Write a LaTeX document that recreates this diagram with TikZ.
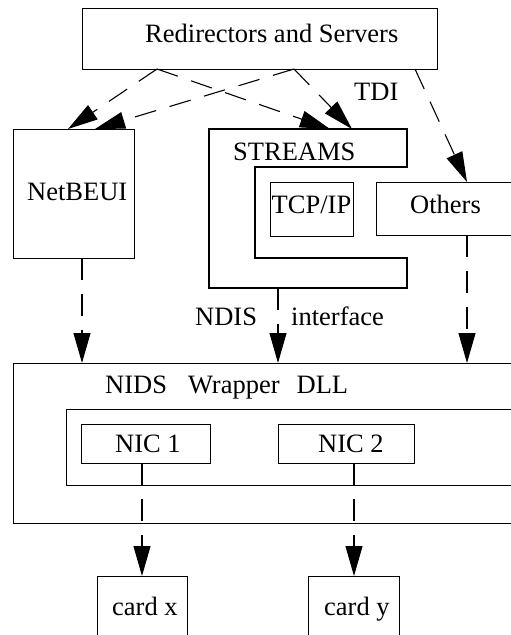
\documentclass[tikz,border=0pt]{standalone}
\usepackage{fontspec}
\setmainfont{Liberation Serif}
\usetikzlibrary{arrows.meta}

\tikzset{
  box/.style={draw, line width=1.1pt, inner sep=0pt, anchor=north west},
  lbl/.style={inner sep=0pt, anchor=base west, font=\fontsize{26.5}{30}\selectfont},
  link/.style={line width=1.1pt, dash pattern=on 22pt off 14pt,
               -{Triangle[length=30pt,width=17pt]}},
}

\begin{document}
\begin{tikzpicture}[x=1pt,y=-1pt]
\clip (0,0) rectangle (511,635);
\useasboundingbox (0,0) rectangle (511,635);

% boxes
\node[box, minimum width=355pt, minimum height=61pt] (rs) at (82,8) {};
\node[box, minimum width=121pt, minimum height=129pt] (nb) at (13,129) {};
\node[box, minimum width=83pt, minimum height=54pt] (tcp) at (270,182) {};
\node[box, minimum width=160pt, minimum height=53pt] (ot) at (376,182) {};
\node[box, minimum width=520pt, minimum height=160pt] (nids) at (13,363) {};
\node[box, minimum width=470pt, minimum height=76pt] (inner) at (66,409) {};
\node[box, minimum width=129pt, minimum height=39pt] (nic1) at (81,424) {};
\node[box, minimum width=136pt, minimum height=39pt] (nic2) at (278,424) {};
\node[box, minimum width=90pt, minimum height=80pt] (cx) at (97,576) {};
\node[box, minimum width=91pt, minimum height=80pt] (cy) at (308,576) {};

% STREAMS frame wrapped around TCP/IP
\draw[line width=1.1pt] (209,129) -- (407,129) -- (407,167) -- (255,167)
  -- (255,258) -- (407,258) -- (407,288) -- (209,288) -- cycle;
\coordinate (stA) at (330,129);
\coordinate (stB) at (352,129);
\coordinate (stBot) at (278,288);

% labels
\node[lbl] (t-rs) at (145,42) {Redirectors and Servers};
\node[lbl] (t-tdi) at (354,100) {TDI};
\node[lbl] (t-nb) at (27,200) {NetBEUI};
\node[lbl] (t-st) at (233,160) {STREAMS};
\node[lbl, anchor=base] (t-tcp) at (311.5,213) {TCP/IP};
\node[lbl] (t-ot) at (410,213) {Others};
\node[lbl] (t-ndis) at (195,325) {NDIS};
\node[lbl] (t-if) at (291,325) {interface};
\node[lbl] (t-nids) at (105,393) {NIDS\hspace{21pt}Wrapper\hspace{17pt}DLL};
\node[lbl] (t-n1) at (115,452) {NIC 1};
\node[lbl] (t-n2) at (318,452) {NIC 2};
\node[lbl] (t-cx) at (112,615) {card x};
\node[lbl] (t-cy) at (324,615) {card y};

% anchor points on box edges
\coordinate (rsA) at (157,69);
\coordinate (rsB) at (294,69);
\coordinate (rsC) at (415,69);
\coordinate (nbA) at (68,129);
\coordinate (nbB) at (95,129);
\coordinate (otTop) at (467,182);
\coordinate (nbBot) at (82,258);
\coordinate (otBot) at (467,235);
\coordinate (nidsA) at (82,363);
\coordinate (nidsB) at (278,363);
\coordinate (nidsC) at (467,363);
\coordinate (n1Bot) at (142,463);
\coordinate (n2Bot) at (354,463);
\coordinate (cxTop) at (142,576);
\coordinate (cyTop) at (354,576);

% connectors
\draw[link] (rsA) -- (nbA);
\draw[link] (rsB) -- (nbB);
\draw[link] (rsA) -- (stA);
\draw[link] (rsB) -- (stB);
\draw[link] (rsC) -- (otTop);
\draw[link] (nbBot) -- (nidsA);
\draw[link] (stBot) -- (nidsB);
\draw[link] (otBot) -- (nidsC);
\draw[link] (n1Bot) -- (cxTop);
\draw[link] (n2Bot) -- (cyTop);
\end{tikzpicture}
\end{document}
